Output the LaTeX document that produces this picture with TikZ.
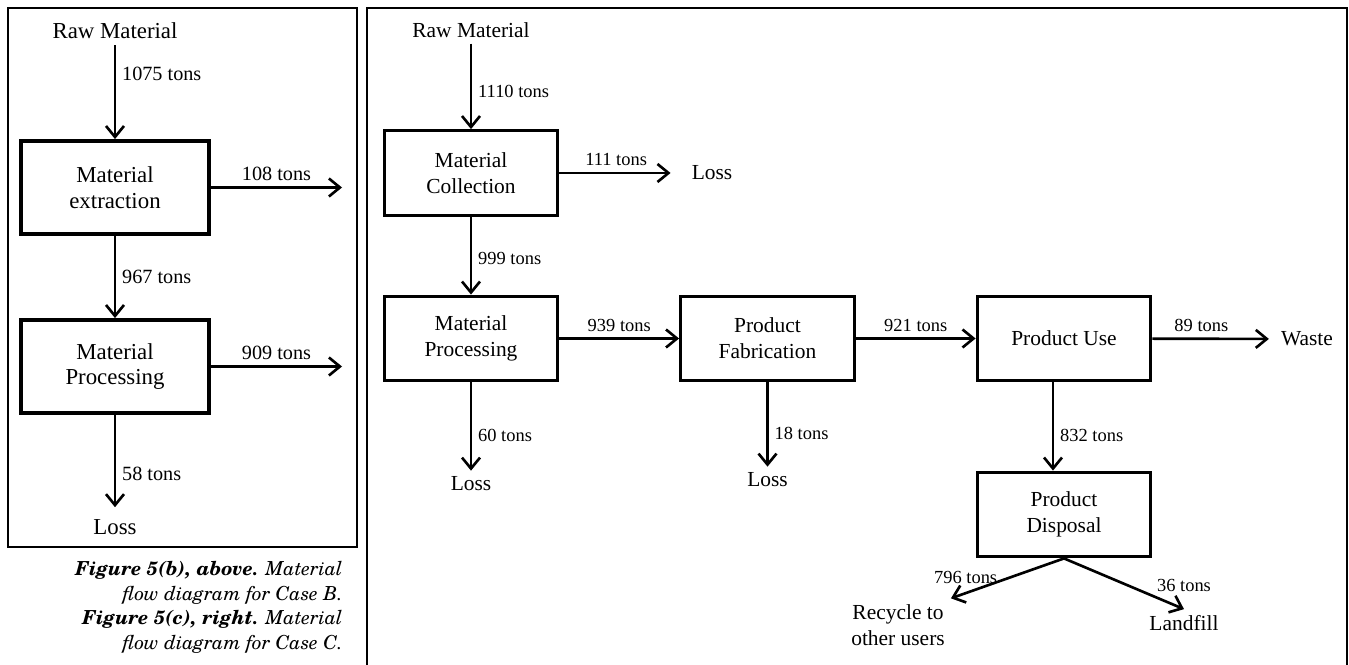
\documentclass[tikz,border=0pt]{standalone}
\usepackage{fontspec}
\setmainfont{Liberation Serif}
\newfontfamily\capfont{TeX Gyre Schola}
\usetikzlibrary{arrows.meta}

\begin{document}
\begin{tikzpicture}[x=0.02cm, y=-0.02cm, auto,
    flow/.style={-{Straight Barb[length=2.2mm,width=3.6mm]}, line width=1.5pt},
    frame/.style={line width=1pt},
    bigtxt/.style={font=\fontsize{13}{14.5}\selectfont},
    smalltxt/.style={font=\fontsize{12.2}{14.7}\selectfont, align=center},
    biglab/.style={font=\fontsize{11.5}{13}\selectfont},
    smalllab/.style={font=\fontsize{10.5}{12}\selectfont}]
\useasboundingbox (0,0) rectangle (1349,665);

% case B (left)
\draw[frame] (8,8) rectangle (357,547);
\node[bigtxt] (rawB) at (115,31) {Raw Material};
\begin{scope}[every node/.style={draw, line width=2.2pt, minimum width=3.76cm, minimum height=1.86cm, align=center, font=\fontsize{13}{14.5}\selectfont}]
    \node (extB) at (115,187.5) {Material\\extraction};
    \node (procB) at (115,366.5) {Material\\Processing};
\end{scope}
\node[bigtxt] (lossB) at (115,527) {Loss};
\coordinate (outB1) at (342,187.5);
\coordinate (outB2) at (342,366.5);
\draw (rawB) edge [flow] node[biglab, pos=0.3] {1075 tons} (extB);
\draw (extB) edge [flow] node[biglab] {108 tons} (outB1);
\draw (extB) edge [flow] node[biglab, pos=0.5] {967 tons} (procB);
\draw (procB) edge [flow] node[biglab] {909 tons} (outB2);
\draw (procB) edge [flow, shorten >=0.12cm] node[biglab, pos=0.6] {58 tons} (lossB);

\node[anchor=north east, align=right, inner sep=0pt,
      font=\capfont\itshape\fontsize{11}{14}\selectfont] (capB) at (343,561)
    {\textbf{Figure 5(b), above.} Material\\
     flow diagram for Case B.\\
     \textbf{Figure 5(c), right.} Material\\
     flow diagram for Case C.};

% case C (right)
\draw[frame] (367,670) -- (367,8) -- (1347,8) -- (1347,670);
\node[smalltxt] (rawC) at (471,30) {Raw Material};
\begin{scope}[every node/.style={draw, line width=1.9pt, minimum width=3.47cm, minimum height=1.69cm, align=center, font=\fontsize{12.2}{14.7}\selectfont}]
    \node (collC) at (471,173) {Material\\Collection};
    \node (procC) at (471,338.5) {Material\\Processing};
    \node (fabC) at (767.5,338.5) {Product\\Fabrication};
    \node (useC) at (1064,338.5) {Product Use};
    \node (dispC) at (1064,514.5) {Product\\Disposal};
\end{scope}
\node[smalltxt] (loss1C) at (712,173) {Loss};
\node[smalltxt] (loss2C) at (471,484) {Loss};
\node[smalltxt] (loss3C) at (767.5,480) {Loss};
\node[smalltxt] (wasteC) at (1307,339) {Waste};
\node[smalltxt] (recyC) at (898,625) {Recycle to\\other users};
\node[smalltxt] (fillC) at (1184,623) {Landfill};

\draw (rawC) edge [flow] node[smalllab, pos=0.56] {1110 tons} (collC);
\draw (collC) edge [flow, shorten >=0.3cm] node[smalllab, pos=0.45] {111 tons} (loss1C);
\draw (collC) edge [flow] node[smalllab, pos=0.54] {999 tons} (procC);
\draw (procC) edge [flow] node[smalllab] {939 tons} (fabC);
\draw (procC) edge [flow] node[smalllab, pos=0.6] {60 tons} (loss2C);
\draw (fabC) edge [flow] node[smalllab] {921 tons} (useC);
\draw (fabC) edge [flow] node[smalllab, pos=0.6] {18 tons} (loss3C);
\draw (useC) edge [flow, shorten >=0.12cm] node[smalllab, pos=0.4] {89 tons} (wasteC);
\draw ([xshift=-0.22cm]useC.south) edge [flow] node[smalllab, pos=0.6] {832 tons} ([xshift=-0.22cm]dispC.north);
\draw (dispC.south) edge [flow] node[smalllab, pos=0.87, above=1.5pt] {796 tons} (recyC.north east);
\draw (dispC.south) edge [flow] node[smalllab, pos=1, above=6pt] {36 tons} (fillC.north);
\end{tikzpicture}
\end{document}
